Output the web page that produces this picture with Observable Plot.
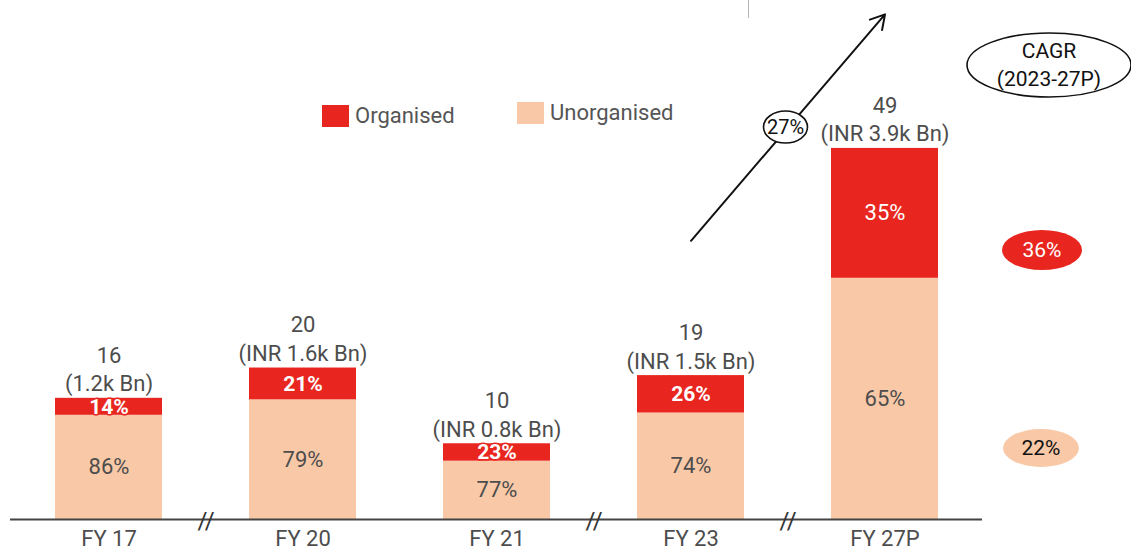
<!DOCTYPE html>
<html>
<head>
<meta charset="utf-8">
<script src="https://cdn.jsdelivr.net/npm/d3@7"></script>
<script src="https://cdn.jsdelivr.net/npm/@observablehq/plot@0.6"></script>
<style>
  body { margin: 0; background: #fff; font-family: Roboto, "Noto Sans", sans-serif; }
  #wrap { position: relative; width: 1131px; height: 556px; overflow: hidden; }
  .legend-item { position: absolute; display: flex; align-items: center; font-size: 22px; color: #555; }
  .swatch { width: 27px; height: 22px; margin-right: 6px; }
  .edge-mark { position: absolute; left: 748px; top: 0; width: 1px; height: 18px; background: #b5b5b5; }
</style>
</head>
<body>
<div id="wrap"></div>
<script>
// Market size by fiscal year (totals) and its split by segment (shares, %)
const years = ["FY 17", "FY 20", "FY 21", "FY 23", "FY 27P"];
const totals = [16, 20, 10, 19, 49];
const inrLabels = ["(1.2k Bn)", "(INR 1.6k Bn)", "(INR 0.8k Bn)", "(INR 1.5k Bn)", "(INR 3.9k Bn)"];
const organisedShare = [14, 21, 23, 26, 35];
const unorganisedShare = [86, 79, 77, 74, 65];
const segments = ["Organised", "Unorganised"];
const segmentColors = ["#e8261f", "#f9c9a7"];

// Years after which the time axis skips some years
const axisBreaks = ["FY 17", "FY 21", "FY 23"];

// CAGR 2023-27P
const cagrTotal = 27;
const cagrOrganised = 36;
const cagrUnorganised = 22;

// Long table for the stacked bars
const rows = years.flatMap((year, i) => {
  const unorg = totals[i] * unorganisedShare[i] / 100;
  const org = totals[i] * organisedShare[i] / 100;
  return [
    {year, segment: "Unorganised", value: unorg, share: unorganisedShare[i], mid: unorg / 2},
    {year, segment: "Organised", value: org, share: organisedShare[i], mid: unorg + org / 2}
  ];
});
const totalRows = years.map((year, i) => ({year, total: totals[i], label: `${totals[i]}\n${inrLabels[i]}`}));

const W = 1131, H = 556;
const textGray = "#4d4d4d";

const plot = Plot.plot({
  width: W,
  height: H,
  marginLeft: 10,
  marginRight: 149,
  marginTop: 4,
  marginBottom: 37,
  style: {fontFamily: "Roboto, 'Noto Sans', sans-serif", fontSize: "22px", background: "transparent"},
  x: {domain: years, paddingInner: 0.45, paddingOuter: 0.224, axis: null},
  y: {domain: [0, 68], axis: null},
  color: {domain: segments, range: segmentColors},
  marks: [
    Plot.barY(rows, {x: "year", y: "value", fill: "segment", order: ["Unorganised", "Organised"]}),
    Plot.ruleY([0], {stroke: "#444", strokeWidth: 1.8}),
    // axis-break marks between non-consecutive years
    Plot.text(axisBreaks, {x: d => d, y: 0, dx: 97, dy: 2, text: () => "//", fontSize: 24, fill: "#333"}),
    // year labels
    Plot.text(years, {x: d => d, frameAnchor: "bottom", dy: 26, text: d => d, fill: textGray, fontSize: 22}),
    // segment shares
    Plot.text(rows.filter(d => d.segment === "Unorganised"), {
      x: "year", y: "mid", text: d => `${d.share}%`, fill: textGray, fontSize: 22
    }),
    Plot.text(rows.filter(d => d.segment === "Organised" && d.year !== "FY 27P"), {
      x: "year", y: "mid", text: d => `${d.share}%`, fill: "white", fontWeight: "bold", fontSize: 21,
      stroke: segmentColors[0], strokeWidth: 3, paintOrder: "stroke"
    }),
    Plot.text(rows.filter(d => d.segment === "Organised" && d.year === "FY 27P"), {
      x: "year", y: "mid", text: d => `${d.share}%`, fill: "white", fontSize: 22
    }),
    // totals above bars
    Plot.text(totalRows, {
      x: "year", y: "total", text: "label", lineAnchor: "bottom", lineHeight: 1.3, dy: -7,
      fill: textGray, fontSize: 22
    }),
    // growth arrow from FY 23 to FY 27P
    Plot.arrow([{from: "FY 23", to: "FY 27P"}], {
      x1: "from", x2: "to", y1: () => 36.8, y2: () => 66.7,
      stroke: "#111", strokeWidth: 2, headLength: 12
    })
  ]
});

const wrap = document.getElementById("wrap");
wrap.appendChild(plot);

// Ellipse badges drawn with the plot's own scales
const xs = plot.scale("x"), ys = plot.scale("y");
const bandCenter = d => xs.apply(d) + xs.bandwidth / 2;
const svg = d3.select(plot);
const g = svg.append("g").attr("font-family", "Roboto, 'Noto Sans', sans-serif").attr("text-anchor", "middle");

function badge({cx, cy, rx, ry, fill, stroke, lines, color, size = 22, lh = 28}) {
  g.append("ellipse").attr("cx", cx).attr("cy", cy).attr("rx", rx).attr("ry", ry)
    .attr("fill", fill).attr("stroke", stroke || "none").attr("stroke-width", 1.6);
  const n = lines.length;
  lines.forEach((t, i) => {
    g.append("text").attr("x", cx).attr("y", cy + (i - (n - 1) / 2) * lh)
      .attr("dy", "0.35em").attr("font-size", size).attr("fill", color).text(t);
  });
}

// total CAGR sits on the middle of the arrow
const ax = (bandCenter("FY 23") + bandCenter("FY 27P")) / 2;
const ay = (ys.apply(36.8) + ys.apply(66.7)) / 2;
badge({cx: ax - 2, cy: ay, rx: 22, ry: 16, fill: "white", stroke: "#111", lines: [`${cagrTotal}%`], color: "#111", size: 20});

// CAGR column on the right
const colX = W - 86;
badge({cx: colX + 4, cy: 65, rx: 82, ry: 32, fill: "white", stroke: "#111", lines: ["CAGR", "(2023-27P)"], color: "#111", size: 21, lh: 28});
badge({cx: colX - 3, cy: 250, rx: 40, ry: 20, fill: segmentColors[0], lines: [`${cagrOrganised}%`], color: "white", size: 21});
badge({cx: colX - 4, cy: 448, rx: 38, ry: 19, fill: segmentColors[1], lines: [`${cagrUnorganised}%`], color: "#111", size: 21});

// Legend
const legendPos = [{left: 322, top: 103}, {left: 517, top: 100}];
segments.forEach((s, i) => {
  const item = document.createElement("div");
  item.className = "legend-item";
  item.style.left = legendPos[i].left + "px";
  item.style.top = legendPos[i].top + "px";
  item.innerHTML = `<div class="swatch" style="background:${segmentColors[i]}"></div><span>${s}</span>`;
  wrap.appendChild(item);
});

const edge = document.createElement("div");
edge.className = "edge-mark";
wrap.appendChild(edge);
</script>
</body>
</html>
